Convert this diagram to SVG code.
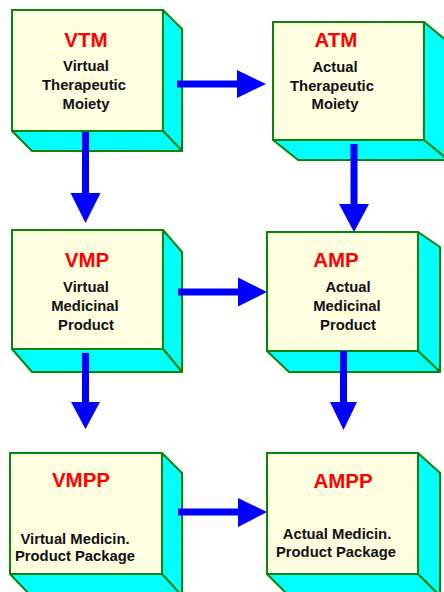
<svg xmlns="http://www.w3.org/2000/svg" width="444" height="592" viewBox="0 0 444 592">
  <defs>
    <!-- pale yellow face with faint white ripple lines -->
    <pattern id="ripple" width="12" height="9" patternUnits="userSpaceOnUse">
      <rect width="12" height="9" fill="#FFFFDC"/>
      <path d="M0 4.5 Q3 2.5 6 4.5 T12 4.5" fill="none" stroke="#FFFFFF" stroke-width="1.3" opacity="0.85"/>
    </pattern>
    <style>
      .front { fill: url(#ripple); stroke: #0A850A; stroke-width: 2; }
      .side { fill: #00FFFF; stroke: #0A850A; stroke-width: 2; stroke-linejoin: round; }
      .title { font-family: "Liberation Sans", Arial, sans-serif; font-weight: bold; font-size: 20.5px; fill: #FF0000; text-anchor: middle; }
      .label { font-family: "Liberation Sans", Arial, sans-serif; font-weight: bold; font-size: 14.8px; fill: #111111; text-anchor: middle; }
      .arrow { fill: #0000FF; }
    </style>
  </defs>

  <rect width="444" height="592" fill="#FFFFFF"/>

  <!-- VTM -->
  <g id="vtm">
    <polygon class="side" points="163,10 182,29 182,151 163,131"/>
    <polygon class="side" points="12,131 32,151 182,151 163,131"/>
    <rect class="front" x="12" y="10" width="151" height="121"/>
    <text class="title" x="86" y="47">VTM</text>
    <text class="label" x="86" y="71">Virtual</text>
    <text class="label" x="84" y="90">Therapeutic</text>
    <text class="label" x="86" y="109">Moiety</text>
  </g>

  <!-- ATM -->
  <g id="atm">
    <polygon class="side" points="424,22 448,42 448,160 424,140"/>
    <polygon class="side" points="273,140 298,160 448,160 424,140"/>
    <rect class="front" x="273" y="22" width="151" height="118"/>
    <text class="title" x="336" y="47">ATM</text>
    <text class="label" x="335" y="72">Actual</text>
    <text class="label" x="332" y="91">Therapeutic</text>
    <text class="label" x="335" y="109">Moiety</text>
  </g>

  <!-- VMP -->
  <g id="vmp">
    <polygon class="side" points="163,230 182,252 182,372 163,349"/>
    <polygon class="side" points="12,349 32,372 182,372 163,349"/>
    <rect class="front" x="12" y="230" width="151" height="119"/>
    <text class="title" x="87" y="267">VMP</text>
    <text class="label" x="86" y="292">Virtual</text>
    <text class="label" x="85" y="311">Medicinal</text>
    <text class="label" x="86" y="330">Product</text>
  </g>

  <!-- AMP -->
  <g id="amp">
    <polygon class="side" points="418,232 440,247 440,372 418,351"/>
    <polygon class="side" points="267,351 289,372 440,372 418,351"/>
    <rect class="front" x="267" y="232" width="151" height="119"/>
    <text class="title" x="336" y="267">AMP</text>
    <text class="label" x="348" y="292">Actual</text>
    <text class="label" x="347" y="311">Medicinal</text>
    <text class="label" x="348" y="330">Product</text>
  </g>

  <!-- VMPP -->
  <g id="vmpp">
    <polygon class="side" points="162,453 182,473 182,596 162,574"/>
    <polygon class="side" points="10,574 31,596 182,596 162,574"/>
    <rect class="front" x="10" y="453" width="152" height="121"/>
    <text class="title" x="81" y="487">VMPP</text>
    <text class="label" x="75" y="544">Virtual Medicin.</text>
    <text class="label" x="75" y="561">Product Package</text>
  </g>

  <!-- AMPP -->
  <g id="ampp">
    <polygon class="side" points="418,453 440,473 440,596 418,574"/>
    <polygon class="side" points="267,574 289,596 440,596 418,574"/>
    <rect class="front" x="267" y="453" width="151" height="121"/>
    <text class="title" x="343" y="488">AMPP</text>
    <text class="label" x="337" y="539">Actual Medicin.</text>
    <text class="label" x="336" y="557">Product Package</text>
  </g>

  <!-- block arrows between the boxes -->
  <g id="connectors">
    <polygon class="arrow" points="177,80.5 237,80.5 237,70 266,84 237,98 237,87.5 177,87.5"/>
    <polygon class="arrow" points="82,132 82,193 70.5,193 85.5,223 100.5,193 89,193 89,132"/>
    <polygon class="arrow" points="350.5,144 350.5,204 339,204 354,232 369,204 357.5,204 357.5,144"/>
    <polygon class="arrow" points="178,288.5 238,288.5 238,277.5 267,292 238,306.5 238,295.5 178,295.5"/>
    <polygon class="arrow" points="82,353 82,402 71,402 85.5,429 100,402 89,402 89,353"/>
    <polygon class="arrow" points="340,351 340,402 330,402 343.5,430 357,402 347,402 347,351"/>
    <polygon class="arrow" points="178,508.5 238,508.5 238,498 267,512 238,527 238,515.5 178,515.5"/>
  </g>
</svg>
